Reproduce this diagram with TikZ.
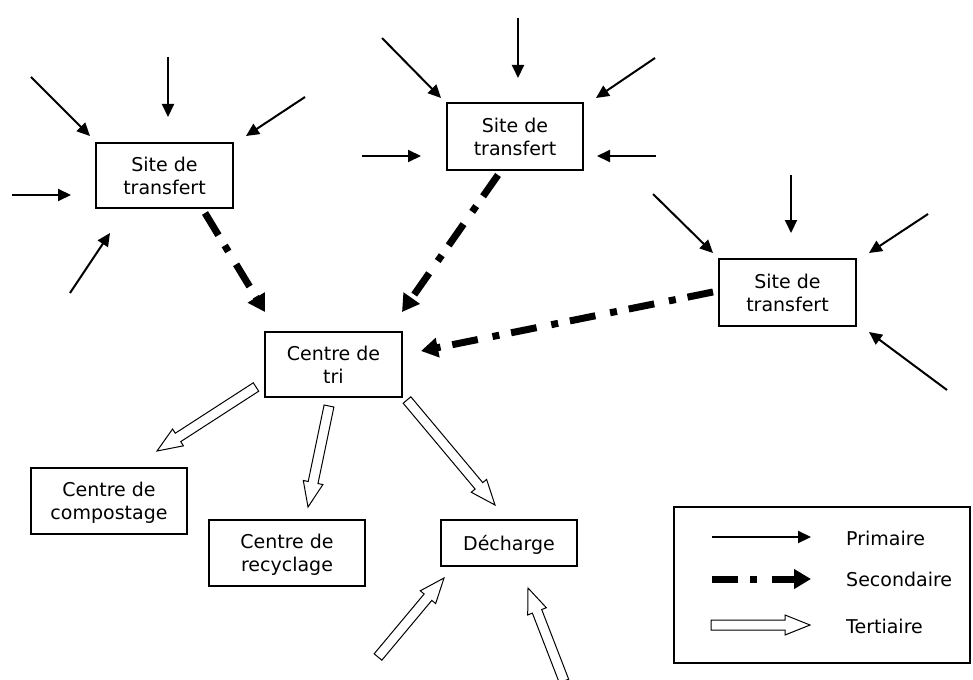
\documentclass[tikz,border=0pt]{standalone}
\usepackage{fontspec}
\setmainfont{DejaVu Sans}
\usetikzlibrary{arrows.meta,calc}
\newcommand\tertarrow[2]{%
  \coordinate (hb) at ($(#2)!25pt!(#1)$);
  \draw[tert] ($(#1)!5pt!90:(#2)$) -- ($(hb)!5pt!90:(#2)$) -- ($(hb)!10pt!90:(#2)$)
    -- (#2) -- ($(hb)!10pt!-90:(#2)$) -- ($(hb)!5pt!-90:(#2)$) -- ($(#1)!5pt!-90:(#2)$) -- cycle;}
\tikzset{
  box/.style={draw, line width=1.2pt, inner sep=0pt, align=center, text depth=0pt,
    font=\fontsize{19}{23.3}\selectfont},
  lbl/.style={inner sep=0pt, anchor=base west, font=\fontsize{19}{23.3}\selectfont},
  prim/.style={line width=2pt, -{Triangle[length=13pt,width=12pt]}},
  sec/.style={line width=7pt, dash pattern=on 26pt off 12pt on 7pt off 15pt,
    -{Triangle[length=17pt,width=19pt]}},
  tert/.style={draw, line width=1pt, fill=white, line join=miter},
}
\begin{document}
\begin{tikzpicture}[x=1pt,y=-1pt]
\useasboundingbox (0,0) rectangle (973,679);
% boxes
\node[box,minimum width=137pt,minimum height=65pt] (sA) at (164.5,175.5) {Site de\\transfert};
\node[box,minimum width=136pt,minimum height=67pt] (sB) at (515,136.5) {Site de\\transfert};
\node[box,minimum width=137pt,minimum height=67pt] (sC) at (787.5,292.5) {Site de\\transfert};
\node[box,minimum width=137pt,minimum height=65pt] (tri) at (333.5,364.5) {Centre de\\tri};
\node[box,minimum width=156pt,minimum height=66pt] (comp) at (109,501) {Centre de\\compostage};
\node[box,minimum width=156pt,minimum height=66pt] (recy) at (287,553) {Centre de\\recyclage};
\node[box,minimum width=136pt,minimum height=46pt] (dech) at (509,543) {Décharge};
% primary arrows
\coordinate (p1s) at (31,77);   \coordinate (p1e) at (90,136);
\coordinate (p2s) at (168,57);  \coordinate (p2e) at (168,117);
\coordinate (p3s) at (305,97);  \coordinate (p3e) at (246,136);
\coordinate (p4s) at (12,195);  \coordinate (p4e) at (71,195);
\coordinate (p5s) at (70,293);  \coordinate (p5e) at (110,233);
\coordinate (p6s) at (382,38);  \coordinate (p6e) at (441,98);
\coordinate (p7s) at (518,18);  \coordinate (p7e) at (518,78);
\coordinate (p8s) at (655,58);  \coordinate (p8e) at (596,98);
\coordinate (p9s) at (362,156); \coordinate (p9e) at (421,156);
\coordinate (p10s) at (656,156); \coordinate (p10e) at (597,156);
\coordinate (p11s) at (653,194); \coordinate (p11e) at (713,253);
\coordinate (p12s) at (791,175); \coordinate (p12e) at (791,233);
\coordinate (p13s) at (928,214); \coordinate (p13e) at (869,253);
\coordinate (p14s) at (947,390); \coordinate (p14e) at (869,332);
\foreach \i in {1,...,14} {\draw[prim] (p\i s) -- (p\i e);}
% secondary arrows
\coordinate (s1s) at (205,213); \coordinate (s1e) at (265,312);
\coordinate (s2s) at (498,175); \coordinate (s2e) at (402,312);
\coordinate (s3s) at (713,292); \coordinate (s3e) at (421,351);
\draw[sec] (s1s) -- (s1e);
\draw[sec] (s2s) -- (s2e);
\draw[sec] (s3s) -- (s3e);
% tertiary arrows
\coordinate (t1s) at (256,387); \coordinate (t1e) at (157,451);
\coordinate (t2s) at (329,406); \coordinate (t2e) at (308,507);
\coordinate (t3s) at (407,400); \coordinate (t3e) at (495,505);
\coordinate (t4s) at (378,657); \coordinate (t4e) at (444,578);
\coordinate (t5s) at (564,681); \coordinate (t5e) at (528,588);
\tertarrow{t1s}{t1e}
\tertarrow{t2s}{t2e}
\tertarrow{t3s}{t3e}
\tertarrow{t4s}{t4e}
\tertarrow{t5s}{t5e}
% legend
\node[draw, line width=1.2pt, minimum width=296pt, minimum height=156pt, inner sep=0pt] (leg) at (822,585) {};
\coordinate (l1s) at (712,537); \coordinate (l1e) at (811,537);
\coordinate (l2s) at (712,579); \coordinate (l2e) at (811,579);
\coordinate (l3s) at (711,625); \coordinate (l3e) at (810,625);
\draw[prim] (l1s) -- (l1e);
\draw[sec] (l2s) -- (l2e);
\tertarrow{l3s}{l3e}
\node[lbl] (lp) at (846,545) {Primaire};
\node[lbl] (ls) at (846,586) {Secondaire};
\node[lbl] (lt) at (846,633) {Tertiaire};
\end{tikzpicture}
\end{document}
